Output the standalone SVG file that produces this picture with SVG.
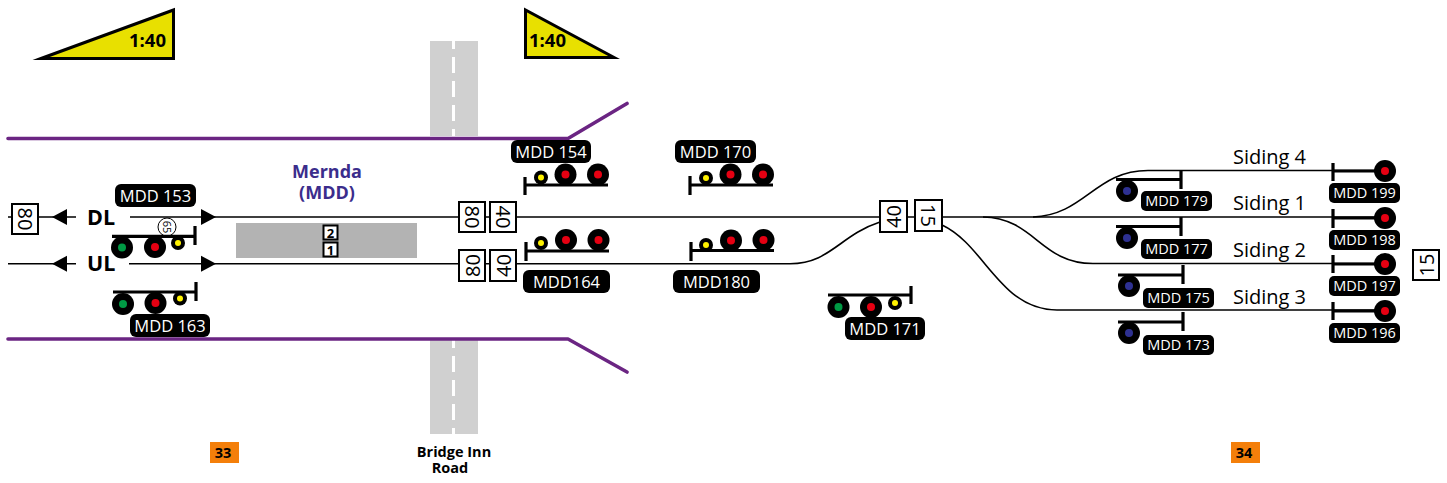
<svg xmlns="http://www.w3.org/2000/svg" width="1447" height="483" viewBox="0 0 1447 483">
<style>
text{font-family:"Open Sans","Noto Sans","DejaVu Sans",sans-serif}
.tr{fill:none;stroke:#000;stroke-width:1.6}
.pl{fill:none;stroke:#6b2583;stroke-width:3.6;stroke-linecap:round;stroke-linejoin:round}
.rd{fill:#d0d0d0}
.ds{stroke:#fff;stroke-width:3;stroke-dasharray:16 8}
.bar{stroke:#000;stroke-width:3.2;fill:none}
.k{fill:#000}
.lb{fill:#fff;font-size:16.5px;text-anchor:middle}
.lbs{fill:#fff;font-size:14.5px;text-anchor:middle}
.sb{fill:#fff;stroke:#000;stroke-width:2}
.st{font-size:20px;text-anchor:middle;dominant-baseline:central}
.sid{font-size:20px}
.grad{fill:#e8e000;stroke:#000;stroke-width:3;stroke-miterlimit:10}
.gt{font-size:18.500px;font-weight:700}
.dir{font-size:21.500px;font-weight:700}
.ar{fill:#000}
.br{font-size:14.500px;font-weight:700;text-anchor:middle}
.st2{font-size:18px;font-weight:700;fill:#3b2d8c;text-anchor:middle}
.km{font-size:14.500px;font-weight:700;text-anchor:middle}
.r{fill:#e60012}.g{fill:#009a44}.y{fill:#fff200}.b{fill:#2e3192}
</style>
<g id="grades">
<polygon class="grad" points="41,58.5 173.5,10 173.5,58.5"/><text class="gt" x="129" y="47">1:40</text>
<polygon class="grad" points="525.5,10 525.5,57.5 614,57.5"/><text class="gt" x="529" y="47">1:40</text>
</g>
<g id="bridge-road">
<rect class="rd" x="430" y="41" width="48" height="95"/>
<rect class="rd" x="430" y="340" width="48" height="94"/>
<line class="ds" x1="453.5" y1="33" x2="453.5" y2="136"/>
<line class="ds" x1="453.5" y1="332" x2="453.5" y2="434"/>
<text class="br" x="454" y="457">Bridge Inn</text>
<text class="br" x="450" y="473">Road</text>
</g>
<g id="boundary">
<path class="pl" d="M8,138.5H568L627,103.5"/>
<path class="pl" d="M8,339H568L627,372"/>
</g>
<g id="platform">
<rect x="236" y="223" width="181" height="35" fill="#b3b3b3"/>
<rect class="sb" x="323.500" y="225.500" width="14" height="14"/>
<rect class="sb" x="323.500" y="242.500" width="14" height="14"/>
<text font-size="13" font-weight="700" text-anchor="middle" x="330.500" y="237.500">2</text>
<text font-size="13" font-weight="700" text-anchor="middle" x="330.500" y="254.500">1</text>
</g>
<g id="station"><text class="st2" x="327" y="178">Mernda</text><text class="st2" x="327" y="199">(MDD)</text></g>
<g id="connectors">
<path class="tr" d="M8,217H76M130,217H1385"/>
<path class="tr" d="M8,263.700H76M129,263.700H790C830,263.700 840,235 880,222"/>
<path class="tr" d="M1033,217C1085,215 1095,170.500 1148,170.500H1385"/>
<path class="tr" d="M983,217C1035,218 1040,263.500 1093,263.500H1385"/>
<path class="tr" d="M942,225C985,245 1000,310 1057,310H1385"/>
<polygon class="ar" points="52,217 67,209 67,225"/><polygon class="ar" points="52,263.700 67,255.700 67,271.700"/>
<polygon class="ar" points="216,217 201,209 201,225"/><polygon class="ar" points="216,263.700 201,255.700 201,271.700"/>
</g>
<g id="line-labels"><text class="dir" x="87" y="225">DL</text><text class="dir" x="87" y="271">UL</text></g>
<g id="boards">
<g><rect class="sb" x="12" y="204" width="26" height="30"/><text class="st" transform="translate(25,219) rotate(90)">80</text></g>
<g><rect class="sb" x="459" y="202" width="26" height="30"/><text class="st" transform="translate(472,217) rotate(90)">80</text></g>
<g><rect class="sb" x="490" y="202" width="26" height="30"/><text class="st" transform="translate(503,217) rotate(90)">40</text></g>
<g><rect class="sb" x="459" y="250" width="26" height="31"/><text class="st" transform="translate(472,265.500) rotate(-90)">80</text></g>
<g><rect class="sb" x="490" y="250" width="26" height="31"/><text class="st" transform="translate(503,265.500) rotate(-90)">40</text></g>
<g><rect class="sb" x="880" y="201" width="27" height="31"/><text class="st" transform="translate(893.500,216.500) rotate(-90)">40</text></g>
<g><rect class="sb" x="915" y="200" width="27" height="31"/><text class="st" transform="translate(928.500,215.500) rotate(90)">15</text></g>
<g><rect class="sb" x="1413" y="250" width="26" height="30"/><text class="st" transform="translate(1426,265) rotate(-90)">15</text></g>
</g>
<g id="speed-65"><circle cx="167" cy="227" r="9" fill="#fff" stroke="#000" stroke-width="1"/><text font-size="11" text-anchor="middle" dominant-baseline="central" transform="translate(167,227) rotate(90)">65</text></g>
<g id="sig-153"><path class="bar" d="M112,236.300H195M195,226V245"/><circle class="k" cx="122" cy="247.500" r="11"/><circle class="g" cx="122" cy="247.500" r="4"/><circle class="k" cx="155" cy="247" r="11"/><circle class="r" cx="155" cy="247" r="4"/><circle class="k" cx="178" cy="243" r="7"/><circle class="y" cx="178" cy="243" r="3"/><rect class="k" x="115" y="184" width="81" height="23" rx="6"/><text class="lb" x="155.500" y="202">MDD 153</text></g>
<g id="sig-163"><path class="bar" d="M113,292H196M196,282V301"/><circle class="k" cx="123" cy="304" r="11"/><circle class="g" cx="123" cy="304" r="4"/><circle class="k" cx="155.500" cy="303" r="11"/><circle class="r" cx="155.500" cy="303" r="4"/><circle class="k" cx="180" cy="298.500" r="7"/><circle class="y" cx="180" cy="298.500" r="3"/><rect class="k" x="130" y="314" width="80" height="23" rx="6"/><text class="lb" x="170" y="332">MDD 163</text></g>
<g id="sig-154"><path class="bar" d="M525,177V195M525,185H608"/><circle class="k" cx="541" cy="177.500" r="7"/><circle class="y" cx="541" cy="177.500" r="3"/><circle class="k" cx="565.500" cy="174.500" r="11"/><circle class="r" cx="565.500" cy="174.500" r="4"/><circle class="k" cx="598" cy="174.500" r="11"/><circle class="r" cx="598" cy="174.500" r="4"/><rect class="k" x="511" y="140" width="80" height="23" rx="6"/><text class="lb" x="551" y="158">MDD 154</text></g>
<g id="sig-164"><path class="bar" d="M526,242V261M526,251H609"/><circle class="k" cx="541" cy="243" r="7"/><circle class="y" cx="541" cy="243" r="3"/><circle class="k" cx="566" cy="240" r="11"/><circle class="r" cx="566" cy="240" r="4"/><circle class="k" cx="598.500" cy="240" r="11"/><circle class="r" cx="598.500" cy="240" r="4"/><rect class="k" x="523" y="270" width="87" height="23" rx="6"/><text class="lb" x="566.500" y="288">MDD164</text></g>
<g id="sig-170"><path class="bar" d="M690,176V195M690,185H773"/><circle class="k" cx="706" cy="178" r="7"/><circle class="y" cx="706" cy="178" r="3"/><circle class="k" cx="730.500" cy="174.500" r="11"/><circle class="r" cx="730.500" cy="174.500" r="4"/><circle class="k" cx="763" cy="174.500" r="11"/><circle class="r" cx="763" cy="174.500" r="4"/><rect class="k" x="675" y="140" width="81" height="23" rx="6"/><text class="lb" x="715.500" y="158">MDD 170</text></g>
<g id="sig-180"><path class="bar" d="M691,242V261M691,250.500H774"/><circle class="k" cx="706" cy="245" r="7"/><circle class="y" cx="706" cy="245" r="3"/><circle class="k" cx="731" cy="240.500" r="11"/><circle class="r" cx="731" cy="240.500" r="4"/><circle class="k" cx="763.500" cy="240" r="11"/><circle class="r" cx="763.500" cy="240" r="4"/><rect class="k" x="673" y="270" width="87" height="23" rx="6"/><text class="lb" x="716.500" y="288">MDD180</text></g>
<g id="sig-171"><path class="bar" d="M828,295H911M911,286V304"/><circle class="k" cx="838.500" cy="307" r="11"/><circle class="g" cx="838.500" cy="307" r="4"/><circle class="k" cx="871" cy="307" r="11"/><circle class="r" cx="871" cy="307" r="4"/><circle class="k" cx="895" cy="303" r="7"/><circle class="y" cx="895" cy="303" r="3"/><rect class="k" x="845" y="317" width="80" height="23" rx="6"/><text class="lb" x="885" y="335">MDD 171</text></g>
<g id="sig-179"><path class="bar" d="M1116,179.500H1181M1181,170V189"/><circle class="k" cx="1127" cy="191" r="11"/><circle class="b" cx="1127" cy="191" r="4"/><rect class="k" x="1141" y="191" width="71" height="20" rx="5"/><text class="lbs" x="1176.500" y="206">MDD 179</text></g>
<g id="sig-177"><path class="bar" d="M1116,226.500H1181M1181,217V236"/><circle class="k" cx="1127" cy="238" r="11"/><circle class="b" cx="1127" cy="238" r="4"/><rect class="k" x="1141" y="239" width="71" height="20" rx="5"/><text class="lbs" x="1176.500" y="254">MDD 177</text></g>
<g id="sig-175"><path class="bar" d="M1118,275H1183M1183,265V284"/><circle class="k" cx="1129" cy="286" r="11"/><circle class="b" cx="1129" cy="286" r="4"/><rect class="k" x="1143" y="288" width="71" height="20" rx="5"/><text class="lbs" x="1178.500" y="303">MDD 175</text></g>
<g id="sig-173"><path class="bar" d="M1118,322H1183M1183,312V331"/><circle class="k" cx="1129" cy="333" r="11"/><circle class="b" cx="1129" cy="333" r="4"/><rect class="k" x="1143" y="335" width="71" height="20" rx="5"/><text class="lbs" x="1178.500" y="350">MDD 173</text></g>
<g id="sig-199"><path class="bar" d="M1333,163V181M1333,171H1385"/><circle class="k" cx="1385" cy="171" r="11"/><circle class="r" cx="1385" cy="171" r="4"/><rect class="k" x="1329" y="183" width="71" height="20" rx="5"/><text class="lbs" x="1364.500" y="198">MDD 199</text></g>
<g id="sig-198"><path class="bar" d="M1333,209V228M1333,218H1385"/><circle class="k" cx="1385" cy="218" r="11"/><circle class="r" cx="1385" cy="218" r="4"/><rect class="k" x="1329" y="230" width="71" height="20" rx="5"/><text class="lbs" x="1364.500" y="245">MDD 198</text></g>
<g id="sig-197"><path class="bar" d="M1333,255V273M1333,264H1385"/><circle class="k" cx="1385" cy="264" r="11"/><circle class="r" cx="1385" cy="264" r="4"/><rect class="k" x="1329" y="276" width="71" height="20" rx="5"/><text class="lbs" x="1364.500" y="291">MDD 197</text></g>
<g id="sig-196"><path class="bar" d="M1333,302V320M1333,311H1385"/><circle class="k" cx="1385" cy="311" r="11"/><circle class="r" cx="1385" cy="311" r="4"/><rect class="k" x="1329" y="323" width="71" height="20" rx="5"/><text class="lbs" x="1364.500" y="338">MDD 196</text></g>
<g id="sidings"><text class="sid" x="1233" y="164">Siding 4</text><text class="sid" x="1233" y="210">Siding 1</text><text class="sid" x="1233" y="257">Siding 2</text><text class="sid" x="1233" y="304">Siding 3</text></g>
<g id="km-33"><rect x="210" y="442" width="29" height="21" fill="#f47f0a"/><text class="km" x="223" y="458">33</text></g>
<g id="km-34"><rect x="1231" y="442" width="29" height="21" fill="#f47f0a"/><text class="km" x="1244" y="458">34</text></g>
</svg>
